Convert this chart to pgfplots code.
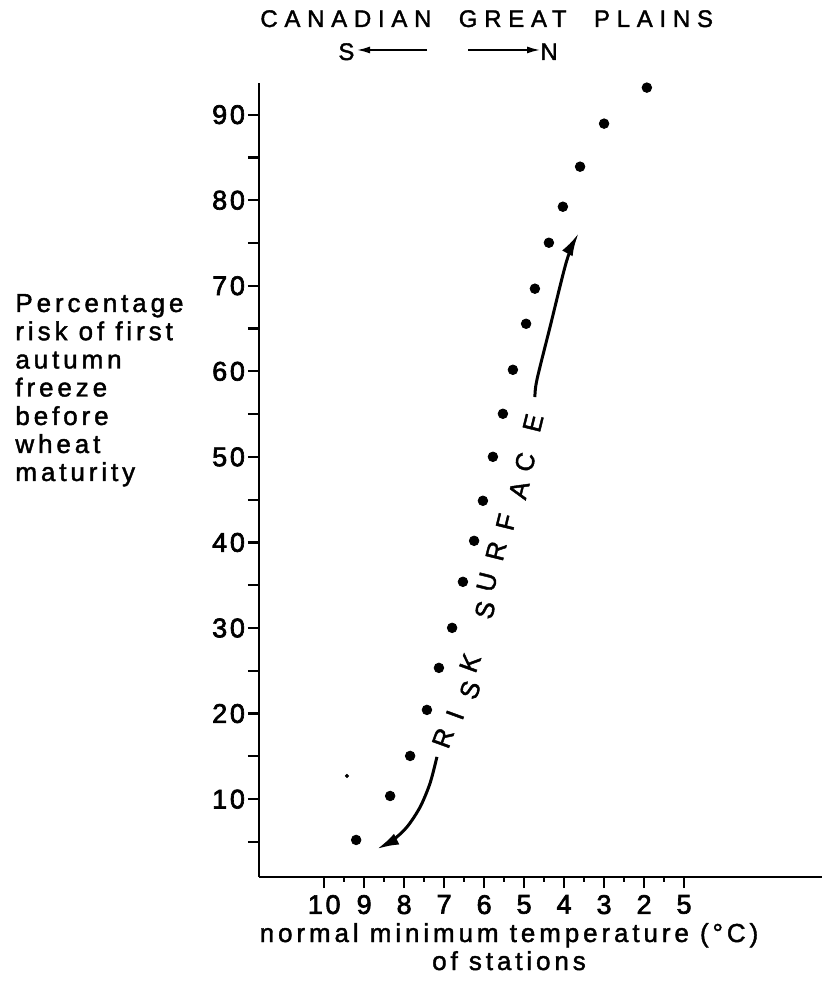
\documentclass[border=0pt]{standalone}
\usepackage{pgfplots}
\pgfplotsset{compat=1.18}
\usepackage{fontspec}
\setmainfont{Liberation Sans}[LetterSpace=15, FakeBold=1.6]
\newfontfamily\titlefont{Liberation Sans}[LetterSpace=28, FakeBold=1.6]
\newfontfamily\digitfont{Liberation Sans}[LetterSpace=10, FakeBold=2.4]
\usetikzlibrary{arrows.meta}

\begin{document}
\begin{tikzpicture}
\path[use as bounding box] (-129.5pt,-53.5pt) rectangle (281.5pt,438.5pt);
\begin{axis}[
  at={(0pt,0pt)}, anchor=south west,
  scale only axis, width=281.5pt, height=397pt,
  x dir=reverse,
  xmin=-2.45, xmax=11.63, ymin=0.9, ymax=93.7,
  axis x line*=bottom, axis y line*=left,
  xtick pos=left, ytick pos=left,
  axis line style={line width=1.2pt},
  tick align=outside,
  xtick={1,...,10}, xticklabels={5,2,3,4,5,6,7,8,9,10},
  minor xtick={1.5,2.5,...,9.5},
  ytick={5,10,...,90},
  yticklabels={,10,,20,,30,,40,,50,,60,,70,,80,,90},
  major tick length=5.5pt, minor tick length=2.5pt,
  every tick/.style={black, line width=1.1pt},
  ticklabel style={font=\digitfont\fontsize{13.5}{15}\selectfont},
  yticklabel style={xshift=2pt},
  clip=false,
]
% stations
\addplot[only marks, mark=*, mark size=2.4pt, black] coordinates {
  (1.93,93.16) (3.00,88.95) (3.60,83.92) (4.03,79.24) (4.38,75.03)
  (4.73,69.66) (4.95,65.56) (5.28,60.18) (5.53,55.04) (5.78,50.01)
  (6.03,44.87) (6.25,40.19) (6.53,35.40) (6.80,30.02) (7.13,25.34)
  (7.43,20.43) (7.85,15.05) (8.35,10.37) (9.20,5.23)
};
\addplot[only marks, mark=*, mark size=0.8pt, black] coordinates {(9.43,12.71)};
% risk surface arrows
\addplot[smooth, line width=1.5pt, -{Latex[length=11pt,width=6pt]}] coordinates {
  (7.18,14.94) (7.35,11.89) (7.60,9.08) (7.93,6.74) (8.28,5.22) (8.68,4.17)
};
\addplot[smooth, line width=1.5pt, -{Latex[length=11pt,width=6pt]}] coordinates {
  (4.73,57.0) (4.68,59.0) (4.35,65.21) (3.93,73.0) (3.65,76.04)
};
\end{axis}

% title
\node[anchor=base west, inner sep=0pt, font=\titlefont\fontsize{12}{14}\selectfont] at (0.5pt,425pt) {CANADIAN\hspace{7pt} GREAT\hspace{7pt} PLAINS};
\node[anchor=base west, inner sep=0pt, font=\fontsize{12}{14}\selectfont] at (39.5pt,408.5pt) {S};
\node[anchor=base west, inner sep=0pt, font=\fontsize{12}{14}\selectfont] at (140.5pt,408.5pt) {N};
\draw[line width=0.8pt, -{Latex[length=6.5pt,width=3.5pt]}] (84pt,413.5pt) -- (49pt,413.5pt);
\draw[line width=0.8pt, -{Latex[length=6.5pt,width=3.5pt]}] (104.5pt,413.5pt) -- (140.5pt,413.5pt);

% y label
\begin{scope}[every node/.style={anchor=base west, inner sep=0pt, font=\fontsize{13}{14}\selectfont}]
\node at (-122pt,282.5pt) {Percentage};
\node at (-122pt,268.4pt) {risk of first};
\node at (-122pt,254.25pt) {autumn};
\node at (-122pt,240.25pt) {freeze};
\node at (-122pt,226pt) {before};
\node at (-122pt,212pt) {wheat};
\node at (-122pt,198pt) {maturity};
\end{scope}

% x label
\node[anchor=base, inner sep=0pt, font=\fontsize{13}{14}\selectfont] at (125pt,-32.5pt) {normal minimum temperature (°C)};
\node[anchor=base, inner sep=0pt, font=\fontsize{13}{14}\selectfont] at (125pt,-46.5pt) {of stations};

% risk surface lettering
\begin{scope}[every node/.style={inner sep=0pt, font=\fontsize{13}{14}\selectfont}]
\node[rotate=70] at (92pt,69.5pt) {R};
\node[rotate=70] at (98pt,81pt) {I};
\node[rotate=70] at (105.5pt,93.5pt) {S};
\node[rotate=70] at (105.5pt,107pt) {K};
\node[rotate=76] at (113pt,133.5pt) {S};
\node[rotate=76] at (114pt,147.5pt) {U};
\node[rotate=76] at (118.5pt,163pt) {R};
\node[rotate=76] at (123.5pt,177.5pt) {F};
\node[rotate=76] at (130pt,193.5pt) {A};
\node[rotate=76] at (133pt,207.5pt) {C};
\node[rotate=76] at (137pt,227pt) {E};
\end{scope}
\end{tikzpicture}
\end{document}
